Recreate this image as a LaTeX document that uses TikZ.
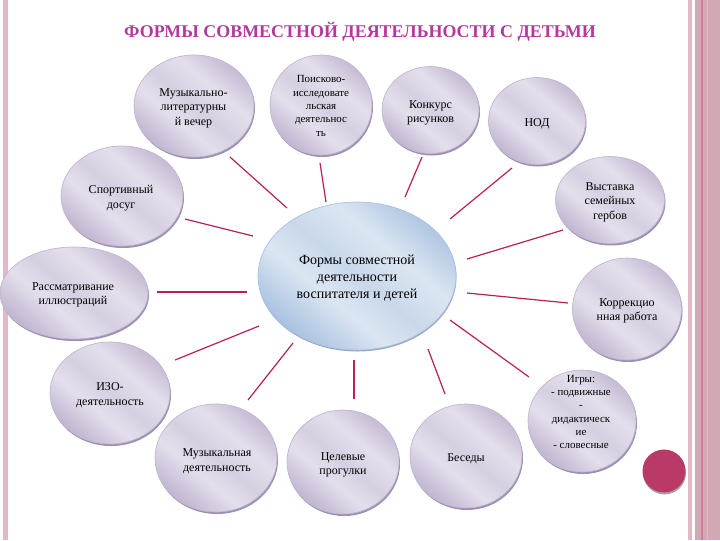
\documentclass[tikz,border=0pt]{standalone}
\usepackage{fontspec}
\setmainfont{Liberation Serif}
\definecolor{lilacD}{HTML}{C1B5D0}
\definecolor{lilacM}{HTML}{D6CFE1}
\definecolor{lilacL}{HTML}{E4DFEC}
\definecolor{rimC}{HTML}{9C90B0}
\definecolor{lineC}{HTML}{B9205A}
\definecolor{titleC}{HTML}{B23A9C}
\definecolor{blueD}{HTML}{A8C1E0}
\definecolor{blueM}{HTML}{C8D8EA}
\definecolor{blueL}{HTML}{DCE6F2}
\definecolor{stripeA}{HTML}{E2B8C6}
\definecolor{stripeB}{HTML}{D2A8B4}
\definecolor{stripeC}{HTML}{CC7F98}
\definecolor{dotC}{HTML}{B93A68}
\pgfdeclareverticalshading{lilac}{100bp}{
  color(0bp)=(lilacD); color(25bp)=(lilacD);
  color(40bp)=(lilacL); color(50bp)=(lilacM); color(62bp)=(lilacL);
  color(77bp)=(lilacD); color(100bp)=(lilacD)}
\pgfdeclareverticalshading{bluish}{100bp}{
  color(0bp)=(blueD); color(25bp)=(blueD); color(40bp)=(blueL); color(50bp)=(blueM); color(62bp)=(blueL); color(77bp)=(blueD); color(100bp)=(blueD)}
\tikzset{
  px/.style={x=0.75pt,y=-0.75pt},
  lil/.style={draw=lilacD,line width=0.5pt,shading=lilac,shading angle=-40},
  rim/.style={fill=rimC,draw=none},
  lab/.style={font=\fontsize{9pt}{10.9pt}\selectfont,align=center,text=black},
  labs/.style={font=\fontsize{8.2pt}{10pt}\selectfont,align=center,text=black},
  link/.style={draw=lineC,line width=0.9pt}
}
\newcommand{\bub}[8]{%
  \fill[rim] (#2+1,#3+2) ellipse [x radius=#4*0.75pt,y radius=#5*0.75pt];
  \path[lil] (#2,#3) ellipse [x radius=#4*0.75pt,y radius=#5*0.75pt];
  \node[#8] (#1) at (#6) {#7};}
\begin{document}
\begin{tikzpicture}[px]
\useasboundingbox (0,0) rectangle (720,540);
\fill[white] (0,0) rectangle (720,540);
% side stripes
\fill[stripeA] (3,0) rectangle (8,540);
\fill[stripeA] (688,0) rectangle (692,540);
\fill[stripeB] (695,0) rectangle (720,540);
\fill[stripeC] (701,0) rectangle (703,540);
\fill[stripeA] (707,0) rectangle (708,540);
% title
\node[font=\bfseries\fontsize{13.45pt}{15pt}\selectfont,text=titleC] (title) at (360,32) {ФОРМЫ СОВМЕСТНОЙ ДЕЯТЕЛЬНОСТИ С ДЕТЬМИ};
% connectors
\coordinate (a1) at (230,157); \coordinate (b1) at (287,208);
\coordinate (a2) at (320,163); \coordinate (b2) at (326,202);
\coordinate (a3) at (422,157); \coordinate (b3) at (405,197);
\coordinate (a4) at (512,168); \coordinate (b4) at (450,219);
\coordinate (a5) at (563,230); \coordinate (b5) at (467,259);
\coordinate (a6) at (568,303); \coordinate (b6) at (467,293);
\coordinate (a7) at (529,377); \coordinate (b7) at (450,320);
\coordinate (a8) at (445,394); \coordinate (b8) at (428,349);
\coordinate (a9) at (354,399); \coordinate (b9) at (354,360);
\coordinate (a10) at (248,400); \coordinate (b10) at (293,343);
\coordinate (a11) at (175,360); \coordinate (b11) at (259,326);
\coordinate (a12) at (157,292); \coordinate (b12) at (247,292);
\coordinate (a13) at (185,219); \coordinate (b13) at (253,236);
\foreach \i in {1,...,13} {\draw[link] (a\i) -- (b\i);}
% centre
\fill[fill=rimC!60!blueD] (357.5,277.5) ellipse [x radius=99*0.75pt,y radius=74*0.75pt];
\path[draw=blueD,line width=0.5pt,shading=bluish,shading angle=-40] (357,276) ellipse [x radius=99*0.75pt,y radius=74*0.75pt];
\node[lab,font=\fontsize{10.5pt}{12.5pt}\selectfont] (centre) at (357,278) {Формы совместной\\деятельности\\воспитателя и детей};
% satellites
\bub{n1}{194}{106}{60}{51}{193.5,108}{Музыкально-\\литературны\\й вечер}{lab}
\bub{n2}{321}{105}{51}{50}{321,106}{Поисково-\\исследовате\\льская\\деятельнос\\ть}{labs}
\bub{n3}{430.5}{110}{48.5}{43.5}{430.5,113}{Конкурс\\рисунков}{lab}
\bub{n4}{537}{121}{48.5}{43.5}{537,124}{НОД}{lab}
\bub{n5}{610}{200}{54.5}{43.5}{610,202}{Выставка\\семейных\\гербов}{lab}
\bub{n6}{627}{309}{54.5}{51}{627,311}{Коррекцио\\нная работа}{lab}
\bub{n7}{582}{421}{54}{51}{581,412}{Игры:\\- подвижные\\-\\дидактическ\\ие\\- словесные}{labs}
\bub{n8}{466}{456}{56}{52}{466,459}{Беседы}{lab}
\bub{n9}{343}{462}{56}{52}{343,465}{Целевые\\прогулки}{lab}
\bub{n10}{216}{458}{61}{54}{217,461}{Музыкальная\\деятельность}{lab}
\bub{n11}{110}{393}{60}{51}{110,395}{ИЗО-\\деятельность}{lab}
\bub{n12}{74}{293}{74}{46}{73,295}{Рассматривание\\иллюстраций}{lab}
\bub{n13}{122}{196}{61}{50}{121,198}{Спортивный\\досуг}{lab}
% dot
\fill[gray!70] (664.5,473) circle [radius=21.5*0.75pt];
\fill[dotC] (664,471) circle [radius=21.5*0.75pt];
\end{tikzpicture}
\end{document}
